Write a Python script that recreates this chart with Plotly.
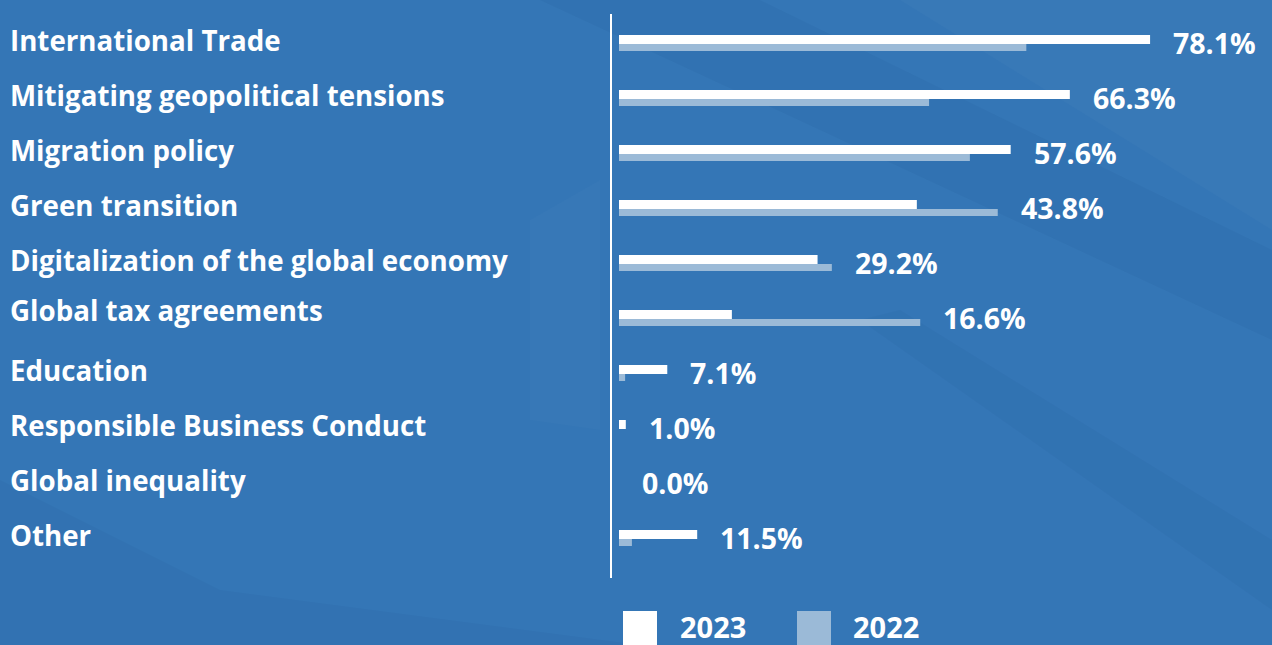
import plotly.graph_objects as go

# Survey results: priority topics, share of respondents (%)
categories = [
    "International Trade",
    "Mitigating geopolitical tensions",
    "Migration policy",
    "Green transition",
    "Digitalization of the global economy",
    "Global tax agreements",
    "Education",
    "Responsible Business Conduct",
    "Global inequality",
    "Other",
]
values_2023 = [78.1, 66.3, 57.6, 43.8, 29.2, 16.6, 7.1, 1.0, 0.0, 11.5]
values_2022 = [59.9, 45.6, 51.6, 55.7, 31.3, 44.3, 0.9, 0.0, 0.0, 1.9]
series_names = ["2023", "2022"]

# ---- page geometry (pixels) ----
W, H = 1272, 645
PLOT_L, PLOT_R = 612, 1272
PLOT_T, PLOT_B = 14, 578
PX_PER_PCT = 6.8
BAR_START_PX = 619
ROW_PX = 55

BG = "#3476b6"
WHITE = "#ffffff"
LIGHT = "#9bbad7"
FONT = "Open Sans"

x_min = -(BAR_START_PX - PLOT_L) / PX_PER_PCT
x_max = x_min + (PLOT_R - PLOT_L) / PX_PER_PCT
n = len(categories)
top_pad = 29 / ROW_PX  # distance of first row centre below the plot top
y_top = -top_pad
y_bottom = y_top + (PLOT_B - PLOT_T) / ROW_PX


def px(xp):
    return (xp - PLOT_L) / (PLOT_R - PLOT_L)


def py(yp):
    return (PLOT_B - yp) / (PLOT_B - PLOT_T)


ypos = list(range(n))

fig = go.Figure()
# thick white bar for the current year, thinner pale bar just beneath it
fig.add_trace(go.Bar(
    y=ypos, x=values_2023, orientation="h", name=series_names[0],
    marker=dict(color=WHITE, line=dict(width=0)),
    width=9 / ROW_PX, offset=-8 / ROW_PX, hoverinfo="x",
))
fig.add_trace(go.Bar(
    y=ypos, x=values_2022, orientation="h", name=series_names[1],
    marker=dict(color=LIGHT, line=dict(width=0)),
    width=7 / ROW_PX, offset=1 / ROW_PX, hoverinfo="x",
))

annotations = []
label_nudge = {"Global tax agreements": 8}
for i, cat in enumerate(categories):
    annotations.append(dict(
        x=px(8), xref="paper", y=i, yref="y", text=cat,
        xanchor="left", yanchor="middle", showarrow=False,
        yshift=label_nudge.get(cat, 3),
        font=dict(family=FONT, size=27.7, color=WHITE, weight="bold"),
    ))
    end = max(values_2023[i], values_2022[i])
    annotations.append(dict(
        x=end, xref="x", y=i, yref="y", text=f"{values_2023[i]:.1f}%",
        xanchor="left", yanchor="middle", showarrow=False, xshift=21,
        font=dict(family=FONT, size=28.5, color=WHITE, weight="bold"),
    ))

# legend drawn below the chart
shapes = []
legend_items = [(series_names[0], WHITE, 623, 678), (series_names[1], LIGHT, 797, 851)]
for name, color, sq_x, tx_x in legend_items:
    shapes.append(dict(
        type="rect", xref="paper", yref="paper",
        x0=px(sq_x), x1=px(sq_x + 34), y0=py(611), y1=py(660),
        fillcolor=color, line=dict(width=0), layer="above",
    ))
    annotations.append(dict(
        x=px(tx_x), xref="paper", y=py(648), yref="paper", text=name,
        xanchor="left", yanchor="bottom", showarrow=False,
        font=dict(family=FONT, size=29, color=WHITE, weight="bold"),
    ))

# soft diagonal bands in the background
bands = [
    ("rgba(10,40,90,0.045)", [(540, 0), (760, 0), (1272, 250), (1272, 340)]),
    ("rgba(10,40,90,0.04)", [(860, 320), (900, 310), (1272, 540), (1272, 610)]),
    ("rgba(255,255,255,0.025)", [(900, 0), (1272, 0), (1272, 230)]),
    ("rgba(10,40,90,0.035)", [(0, 480), (220, 590), (640, 645), (0, 645)]),
    ("rgba(255,255,255,0.015)", [(530, 220), (600, 180), (600, 430), (530, 420)]),
]
for color, pts in bands:
    path = "M " + " L ".join(f"{px(a)},{py(b)}" for a, b in pts) + " Z"
    shapes.append(dict(
        type="path", xref="paper", yref="paper", path=path,
        fillcolor=color, line=dict(width=0), layer="below",
    ))

fig.update_layout(
    width=W, height=H, autosize=False,
    margin=dict(l=PLOT_L, r=W - PLOT_R, t=PLOT_T, b=H - PLOT_B, pad=0),
    paper_bgcolor=BG, plot_bgcolor="rgba(0,0,0,0)",
    barmode="overlay", showlegend=False,
    xaxis=dict(range=[x_min, x_max], visible=False, fixedrange=True),
    yaxis=dict(
        range=[y_bottom, y_top], showticklabels=False, ticks="",
        showgrid=False, zeroline=False, showline=True,
        linecolor=WHITE, linewidth=2, fixedrange=True,
    ),
    annotations=annotations, shapes=shapes,
    font=dict(family=FONT, color=WHITE),
)

fig.write_html("out.html")
